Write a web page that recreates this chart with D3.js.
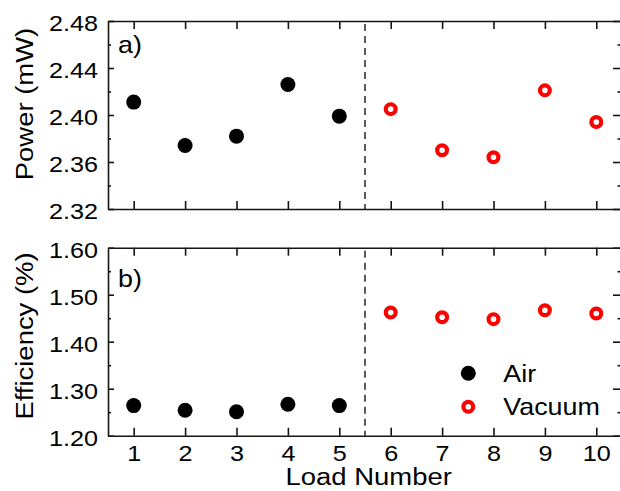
<!DOCTYPE html>
<html>
<head>
<meta charset="utf-8">
<script src="https://cdn.jsdelivr.net/npm/d3@7"></script>
<style>
  html, body { margin: 0; padding: 0; background: #fff; }
  svg { display: block; }
  text { font-family: "Liberation Sans", Arial, sans-serif; fill: #000; }
</style>
</head>
<body>
<svg id="chart" width="620" height="491"></svg>
<script>
// ---- data ----
const loadsAir = [1, 2, 3, 4, 5];
const loadsVacuum = [6, 7, 8, 9, 10];
const powerAir = [2.411, 2.374, 2.382, 2.426, 2.399];
const powerVacuum = [2.405, 2.370, 2.364, 2.421, 2.394];
const effAir = [1.264, 1.254, 1.251, 1.267, 1.264];
const effVacuum = [1.462, 1.452, 1.448, 1.467, 1.460];
const xTicks = [1, 2, 3, 4, 5, 6, 7, 8, 9, 10];
const powerTicks = [2.32, 2.36, 2.40, 2.44, 2.48];
const powerMinor = [2.34, 2.38, 2.42, 2.46];
const effTicks = [1.20, 1.30, 1.40, 1.50, 1.60];
const effMinor = [1.25, 1.35, 1.45, 1.55];
const dividerX = 5.5;
const legendLabels = ["Air", "Vacuum"];

// ---- layout ----
const svg = d3.select("#chart");
const SX = 1.12; // horizontal glyph stretch
const L = 108, R = 622;
const x = d3.scaleLinear().domain([0.5, 10.5]).range([L, R]);
const panels = [
  { y: d3.scaleLinear().domain([2.32, 2.48]).range([209, 21]), ticks: powerTicks, minor: powerMinor,
    fmt: d3.format(".2f"), air: powerAir, vac: powerVacuum, label: "a)", labelY: 53,
    title: "Power (mW)", titleY: 104, xLabels: false },
  { y: d3.scaleLinear().domain([1.20, 1.60]).range([435.7, 247.7]), ticks: effTicks, minor: effMinor,
    fmt: d3.format(".2f"), air: effAir, vac: effVacuum, label: "b)", labelY: 287,
    title: "Efficiency (%)", titleY: 336, xLabels: true }
];
const AX = "#151515";

function styleAxis(g) {
  g.select(".domain").attr("stroke", AX).attr("stroke-width", 1.6);
  g.selectAll(".tick line").attr("stroke", AX).attr("stroke-width", 1.6);
}

panels.forEach(p => {
  const top = p.y.range()[1], bot = p.y.range()[0];

  // divider
  svg.append("line")
    .attr("x1", x(dividerX)).attr("x2", x(dividerX))
    .attr("y1", top + 3).attr("y2", bot)
    .attr("stroke", "#333").attr("stroke-width", 1.6)
    .attr("stroke-dasharray", "7,5");

  // bottom axis
  const gb = svg.append("g").attr("transform", `translate(0,${bot})`)
    .call(d3.axisBottom(x).tickValues(xTicks).tickSizeInner(-8).tickSizeOuter(0)
      .tickFormat(p.xLabels ? d3.format("d") : ""));
  styleAxis(gb);
  gb.selectAll("text").attr("y", null).attr("dy", null)
    .attr("font-size", 22.5).attr("fill", "#000")
    .attr("transform", `translate(0,25) scale(${SX},1)`);

  // top axis
  const gt = svg.append("g").attr("transform", `translate(0,${top})`)
    .call(d3.axisTop(x).tickValues(xTicks).tickSizeInner(-8).tickSizeOuter(0).tickFormat(""));
  styleAxis(gt);

  // left axis
  const gl = svg.append("g").attr("transform", `translate(${L},0)`)
    .call(d3.axisLeft(p.y).tickValues(p.ticks).tickSizeInner(-6).tickSizeOuter(0).tickFormat(p.fmt));
  styleAxis(gl);
  gl.selectAll("text").attr("x", null).attr("dy", null)
    .attr("font-size", 22.5).attr("fill", "#000").attr("text-anchor", "end")
    .attr("transform", `translate(-10,9.6) scale(${SX},1)`);
  const glm = svg.append("g").attr("transform", `translate(${L},0)`)
    .call(d3.axisLeft(p.y).tickValues(p.minor).tickSizeInner(-3).tickSizeOuter(0).tickFormat(""));
  styleAxis(glm);
  glm.select(".domain").remove();

  // right axis
  const gr = svg.append("g").attr("transform", `translate(${R},0)`)
    .call(d3.axisRight(p.y).tickValues(p.ticks).tickSizeInner(-9).tickSizeOuter(0).tickFormat(""));
  styleAxis(gr);
  const grm = svg.append("g").attr("transform", `translate(${R},0)`)
    .call(d3.axisRight(p.y).tickValues(p.minor).tickSizeInner(-4.5).tickSizeOuter(0).tickFormat(""));
  styleAxis(grm);
  grm.select(".domain").remove();

  // panel label
  svg.append("text").attr("font-size", 24)
    .attr("transform", `translate(118,${p.labelY}) scale(${SX},1)`).text(p.label);

  // y title
  svg.append("text").attr("font-size", 24.5).attr("text-anchor", "middle")
    .attr("transform", `translate(33,${p.titleY}) rotate(-90) scale(${SX},1)`).text(p.title);

  // points
  svg.append("g").selectAll("circle").data(loadsAir).join("circle")
    .attr("cx", d => x(d)).attr("cy", (d, i) => p.y(p.air[i]))
    .attr("r", 7.5).attr("fill", "#000");
  svg.append("g").selectAll("circle").data(loadsVacuum).join("circle")
    .attr("cx", d => x(d)).attr("cy", (d, i) => p.y(p.vac[i]))
    .attr("r", 4.9).attr("fill", "none").attr("stroke", "#ff0000").attr("stroke-width", 4.2);
});

// x title
svg.append("text").attr("font-size", 24.5).attr("text-anchor", "middle")
  .attr("transform", `translate(368.7,485) scale(${SX},1)`).text("Load Number");

// legend
const leg = svg.append("g");
leg.append("circle").attr("cx", 468.3).attr("cy", 373.3).attr("r", 7.5).attr("fill", "#000");
leg.append("circle").attr("cx", 468.3).attr("cy", 406.7).attr("r", 4.9)
  .attr("fill", "none").attr("stroke", "#ff0000").attr("stroke-width", 4.2);
leg.append("text").attr("font-size", 24)
  .attr("transform", `translate(503.3,382.3) scale(${SX},1)`).text(legendLabels[0]);
leg.append("text").attr("font-size", 24)
  .attr("transform", `translate(503.3,415) scale(${SX},1)`).text(legendLabels[1]);
</script>
</body>
</html>
